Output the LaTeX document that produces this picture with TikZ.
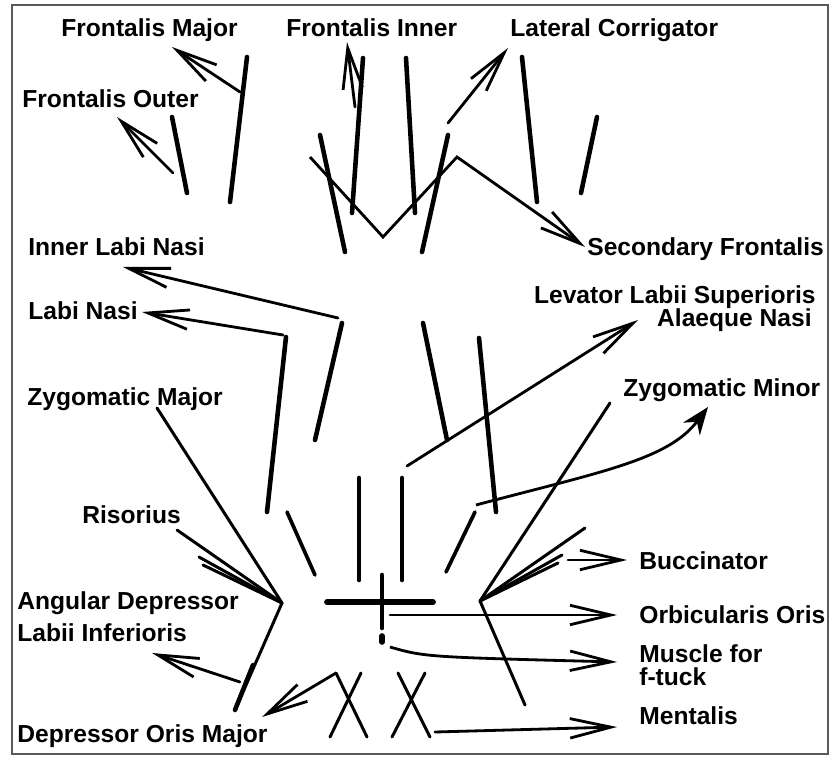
\documentclass[tikz,border=0pt]{standalone}
\usepackage{fontspec}
\setmainfont{Liberation Sans}
\usepackage{tkz-euclide}
\usetikzlibrary{arrows.meta}
\definecolor{FrameClr}{rgb}{0.35,0.35,0.38}
\newcommand{\MuscleSegments}[1]{\tkzDrawSegments[color=black, line width=2.6pt](#1)}
\newcommand{\FanSegments}[1]{\tkzDrawSegments[color=black, line width=1.7pt](#1)}
\newcommand{\PullArrows}[1]{\tkzDrawSegments[color=black, line width=1.6pt, -{Straight Barb[length=8.2mm,width=3.9mm]}](#1)}
\tikzset{lbl/.style={font=\fontsize{14}{13.2}\selectfont\bfseries, inner sep=0pt, anchor=base west}}

\begin{document}
\begin{tikzpicture}[x=0.02cm,y=-0.02cm]
\useasboundingbox (0,0) rectangle (830,756);
\fill[white] (0,0) rectangle (830,756);
\draw[FrameClr, line width=1pt] (12,5) rectangle (828,754);
% forehead
\tkzDefPoints{172/117/OutL1,187/193/OutL2,597/117/OutR1,581/193/OutR2,
  247/57/MajL1,230/202/MajL2,522/57/MajR1,537/202/MajR2,
  363/58/InL1,352/213/InL2,406/58/InR1,415/213/InR2,
  320/135/DiagL1,345/252/DiagL2,448/135/DiagR1,422/252/DiagR2}
\tkzDefPoints{173/173/outS,117/117/outT,240/92/majS,172/47/majT,
  355/107/inS,347/42/inT,448/123/corS,508/48/corT,
  310/157/secA,383/237/secB,457/157/secC,585/247/secT}
% nose and cheeks
\tkzDefPoints{342/323/ILN1,315/440/ILN2,338/318/ilnS,123/267/ilnT,
  286/337/LN1,267/512/LN2,283/335/lnS,142/312/lnT,
  423/323/LevA1,447/440/LevA2,479/338/LevB1,496/512/LevB2,
  407/466/levS,638/320/levT,
  476/505/zmnS,600/472/zmnC1,668/460/zmnC2,708/407/zmnT}
% mouth
\tkzDefPoints{287/512/StubL1,315/575/StubL2,475/512/StubR1,446/572/StubR2,
  359/478/VertL1,359/580/VertL2,402/478/VertR1,402/580/VertR2,
  327/602/BarL,433/602/BarR,382/575/BarT,382/628/BarB,382/636/Dot1,382/642/Dot2,
  282/603/CornL,157/408/ZMaj,177/530/Ris1,199/557/Ris2,203/565/Ris3,235/710/AngL,253/665/AngM,
  480/601/CornR,610/403/ZMin,585/528/Buc1,562/555/Buc2,558/563/Buc3,525/705/AngR}
% chin
\tkzDefPoints{240/682/angS,152/653/angT,262/717/dorT,
  336/673/Xa1,367/737/Xa2,361/673/Xb1,330/737/Xb2,
  398/673/Xc1,430/737/Xc2,425/673/Xd1,392/737/Xd2,
  568/560/bucS,627/560/bucT,390/615/orbS,617/615/orbT,
  390/647/ftS,425/657/ftC,617/662/ftT,435/732/menS,617/727/menT}

\MuscleSegments{OutL1,OutL2 OutR1,OutR2 MajL1,MajL2 MajR1,MajR2 InL1,InL2 InR1,InR2 DiagL1,DiagL2 DiagR1,DiagR2}
\MuscleSegments{ILN1,ILN2 LN1,LN2 LevA1,LevA2 LevB1,LevB2 VertL1,VertL2 VertR1,VertR2 BarT,BarB AngM,AngL}
\tkzDrawSegments[line width=2.1pt](StubL1,StubL2 StubR1,StubR2)
\tkzDrawSegments[line width=3.3pt](BarL,BarR)
\tkzDrawSegments[line width=3.2pt](Dot1,Dot2)
\FanSegments{CornL,ZMaj CornL,Ris1 CornL,Ris2 CornL,Ris3 CornL,AngL}
\FanSegments{CornR,ZMin CornR,Buc1 CornR,Buc2 CornR,Buc3 CornR,AngR}
\FanSegments{Xa1,Xa2 Xb1,Xb2 Xc1,Xc2 Xd1,Xd2}

\PullArrows{outS,outT majS,majT inS,inT corS,corT ilnS,ilnT lnS,lnT levS,levT}
\PullArrows{angS,angT Xa1,dorT bucS,bucT orbS,orbT menS,menT}
\draw[line width=1.6pt, -{Straight Barb[length=8.2mm,width=3.9mm]}] (secA) -- (secB) -- (secC) -- (secT);
\draw[line width=1.6pt, -{Straight Barb[length=8.2mm,width=3.9mm]}] (ftS) .. controls (ftC) .. (ftT);
\draw[line width=1.6pt, -{Stealth[length=5.5mm,width=4.2mm]}] (zmnS) .. controls (zmnC1) and (zmnC2) .. (zmnT);

\node[lbl] (fmajor) at (61,37) {Frontalis Major};
\node[lbl] (finner) at (286,37) {Frontalis Inner};
\node[lbl] (latcor) at (510,37) {Lateral Corrigator};
\node[lbl] (fouter) at (22,108) {Frontalis Outer};
\node[lbl] (innlabi) at (28,256) {Inner Labi Nasi};
\node[lbl] (labi) at (28,319) {Labi Nasi};
\node[lbl] (zygmaj) at (27,405) {Zygomatic Major};
\node[lbl] (secfront) at (587,256) {Secondary Frontalis};
\node[lbl, anchor=base east] (levator) at (816,303) {Levator Labii Superioris};
\node[lbl, anchor=base east] (alaeque) at (812,326) {Alaeque Nasi};
\node[lbl] (zygmin) at (623,396) {Zygomatic Minor};
\node[lbl] (risor) at (82,523) {Risorius};
\node[lbl] (angdep) at (17,609) {Angular Depressor};
\node[lbl] (labinf) at (17,641) {Labii Inferioris};
\node[lbl] (deporis) at (17,742) {Depressor Oris Major};
\node[lbl] (bucc) at (639,569) {Buccinator};
\node[lbl] (orbic) at (639,623) {Orbicularis Oris};
\node[lbl, anchor=north west, align=left] (muscle) at (639,644) {Muscle for\\f-tuck};
\node[lbl] (mental) at (639,724) {Mentalis};
\end{tikzpicture}
\end{document}
